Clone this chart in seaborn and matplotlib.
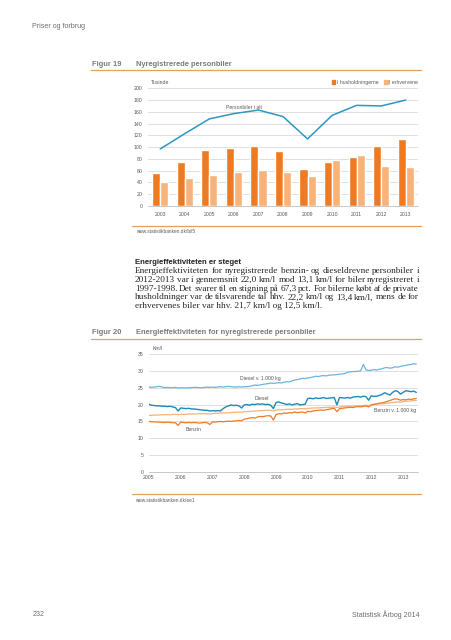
import numpy as np
import pandas as pd
import matplotlib
matplotlib.use("Agg")
import matplotlib.pyplot as plt
import seaborn as sns
from matplotlib.patches import Patch
from matplotlib.lines import Line2D

# ---------------- data: Figur 19 ----------------
years19 = ["2003", "2004", "2005", "2006", "2007", "2008", "2009", "2010", "2011", "2012", "2013"]
husholdninger = [56, 75, 95, 99, 102, 94, 63, 75, 84, 102, 114]
erhvervene = [41, 48, 53, 58, 61, 58, 51, 79, 87, 68, 66]
personbiler_i_alt = [97, 123, 148, 157, 163, 152, 114, 154, 171, 170, 180]
yticks19 = [0, 20, 40, 60, 80, 100, 120, 140, 160, 180, 200]

# ---------------- data: Figur 20 (monthly, Jan 2005 - Jun 2013) ----------------
diesel_1000kg = [
    25.2, 25.1, 25.2, 25.3, 25.4, 25.2, 25.0, 25.1, 25.0, 25.0, 25.1, 24.9,
    25.0, 25.0, 24.9, 25.0, 25.0, 25.1, 25.1, 25.0, 25.0, 25.1, 25.2, 25.1,
    25.2, 25.1, 25.2, 25.3, 25.2, 25.3, 25.4, 25.3, 25.2, 25.2, 25.3, 25.2,
    25.3, 25.3, 25.4, 25.6, 25.8, 25.7, 25.8, 26.0, 26.1, 26.2, 26.4, 26.3,
    26.4, 26.5, 26.4, 26.6, 26.8, 26.7, 27.0, 27.3, 27.4, 27.6, 27.8, 27.7,
    27.9, 28.0, 28.2, 28.4, 28.3, 28.5, 28.6, 28.5, 28.7, 28.8, 28.8, 28.9,
    29.0, 29.1, 29.2, 29.6, 29.7, 29.8, 29.8, 29.9, 30.0, 31.9, 30.3, 30.1,
    30.2, 30.4, 30.2, 30.5, 30.6, 30.9, 31.0, 30.8, 30.9, 31.2, 31.1, 31.3,
    31.5, 31.6, 31.8, 31.9, 32.1, 32.0,
]
diesel = [
    20.1, 19.8, 19.7, 19.6, 19.6, 19.5, 19.5, 19.4, 19.5, 19.3, 19.1, 18.1,
    19.0, 18.9, 18.8, 18.9, 18.7, 18.7, 18.6, 18.5, 18.4, 18.3, 18.3, 18.1,
    18.2, 18.1, 18.2, 18.1, 18.8, 19.3, 19.6, 19.9, 19.7, 19.8, 19.6, 19.0,
    19.9, 20.0, 19.8, 20.1, 20.0, 20.2, 20.1, 20.2, 20.0, 20.1, 19.8, 18.8,
    20.6, 20.8, 20.5, 20.3, 20.0, 20.2, 19.9, 20.1, 20.3, 19.9, 20.0, 20.1,
    21.8, 21.9, 21.7, 22.0, 21.8, 21.9, 22.1, 21.8, 21.9, 22.0, 22.1, 19.9,
    22.1, 22.0, 21.9, 22.1, 21.9, 22.2, 22.3, 22.4, 22.2, 22.5, 22.3, 21.3,
    22.6, 22.4, 22.5, 22.7, 23.0, 23.5, 23.2, 22.8, 23.6, 24.1, 23.9, 23.1,
    23.6, 24.1, 24.0, 23.8, 24.0, 23.6,
]
benzin_1000kg = [
    16.8, 16.8, 16.9, 16.9, 16.9, 17.0, 17.0, 17.0, 17.0, 17.1, 17.1, 17.0,
    17.1, 17.1, 17.1, 17.2, 17.2, 17.2, 17.2, 17.3, 17.3, 17.3, 17.3, 17.2,
    17.3, 17.4, 17.4, 17.5, 17.5, 17.5, 17.6, 17.6, 17.7, 17.7, 17.8, 17.7,
    17.9, 17.9, 18.0, 18.0, 18.1, 18.1, 18.2, 18.2, 18.3, 18.3, 18.3, 18.1,
    18.4, 18.4, 18.5, 18.5, 18.6, 18.6, 18.6, 18.7, 18.7, 18.8, 18.8, 18.7,
    18.9, 18.9, 19.0, 19.0, 19.0, 19.1, 19.1, 19.2, 19.2, 19.2, 19.3, 19.1,
    19.3, 19.4, 19.4, 19.5, 19.5, 19.5, 19.6, 19.6, 19.7, 19.7, 19.8, 19.7,
    19.9, 20.0, 20.1, 20.2, 20.2, 20.3, 20.4, 20.5, 20.6, 20.7, 20.8, 20.7,
    20.9, 21.0, 21.0, 21.1, 21.2, 21.2,
]
benzin = [
    15.0, 14.9, 14.9, 14.8, 14.8, 14.7, 14.7, 14.8, 14.7, 14.6, 14.6, 13.8,
    14.8, 14.7, 14.6, 14.7, 14.6, 14.7, 14.6, 14.5, 14.6, 14.7, 14.6, 14.1,
    14.9, 14.8, 14.9, 15.0, 14.9, 15.0, 15.1, 15.0, 15.1, 15.2, 15.3, 15.2,
    15.7, 15.8, 16.0, 16.1, 16.0, 16.3, 16.5, 16.4, 16.6, 16.7, 16.6, 15.4,
    17.0, 17.3, 17.2, 17.5, 17.4, 17.6, 17.5, 17.8, 17.6, 17.7, 17.8, 17.5,
    18.0, 17.9, 18.1, 18.2, 18.3, 18.4, 18.3, 18.5, 18.6, 18.8, 18.9, 17.9,
    18.8, 18.9, 19.0, 19.1, 19.2, 19.1, 19.3, 19.4, 19.3, 19.5, 19.6, 19.3,
    19.9, 20.1, 20.2, 20.4, 20.5, 20.7, 20.9, 21.2, 21.5, 21.7, 21.6, 21.3,
    21.5, 21.4, 21.6, 21.5, 21.7, 21.8,
]
years20 = [2005, 2006, 2007, 2008, 2009, 2010, 2011, 2012, 2013]
yticks20 = [0, 5, 10, 15, 20, 25, 30, 35]

body_title = "Energieffektiviteten er steget"
body_lines = [
    "Energieffektiviteten for nyregistrerede benzin- og dieseldrevne personbiler i",
    "2012-2013 var i gennemsnit 22,0 km/l mod 13,1 km/l for biler nyregistreret i",
    "1997-1998. Det svarer til en stigning på 67,3 pct. For bilerne købt af de private",
    "husholdninger var de tilsvarende tal hhv. 22,2 km/l og 13,4 km/l, mens de for",
    "erhvervenes biler var hhv. 21,7 km/l og 12,5 km/l.",
]

# ---------------- style ----------------
sns.set_theme(style="white")
plt.rcParams["font.family"] = ["Liberation Sans", "DejaVu Sans"]

C_DARK = "#ee7b22"
C_LIGHT = "#f7b37a"
C_LINE = "#2b97c2"
C_DIESEL1000 = "#6bb4e0"
C_DIESEL = "#1f88b9"
C_BENZIN1000 = "#f6b27c"
C_BENZIN = "#ec7a26"
C_RULE = "#e0a060"
C_GRID = "#d9d9d9"
C_TXT = "#595959"
C_HEAD = "#7a7a7a"
TICK_FS = 3.7
HEAD_FS = 5.45

W, H = 452, 640
fig = plt.figure(figsize=(W / 100, H / 100), dpi=100)


def fx(px):
    return px / W


def fy(py):
    return 1 - py / H


def rule(x0, x1, y, lw=0.9):
    fig.add_artist(Line2D([fx(x0), fx(x1)], [fy(y), fy(y)], color=C_RULE, lw=lw,
                          transform=fig.transFigure))


# page header / footer
fig.text(fx(32.5), fy(26), "Priser og forbrug", fontsize=5.1, color="#6d6d6d", va="center")
fig.text(fx(32.5), fy(615), "232", fontsize=5.1, color="#6d6d6d", va="center")
fig.text(fx(420), fy(615), "Statistisk Årbog 2014", fontsize=5.1, color="#6d6d6d",
         va="center", ha="right")

# ---------------- Figur 19 ----------------
fig.text(fx(92.5), fy(65), "Figur 19", fontsize=HEAD_FS, color=C_HEAD, weight="bold",
         va="center")
fig.text(fx(136.5), fy(65), "Nyregistrerede personbiler", fontsize=HEAD_FS, color=C_HEAD,
         weight="bold", va="center")
rule(91.5, 421, 69.5)

ax1 = fig.add_axes([fx(148), fy(206), fx(418) - fx(148), fy(88.3) - fy(206)])
df1 = pd.DataFrame({
    "year": years19 * 2,
    "type": ["I husholdningerne"] * len(years19) + ["I erhvervene"] * len(years19),
    "value": husholdninger + erhvervene,
})
sns.barplot(data=df1, x="year", y="value", hue="type", order=years19,
            hue_order=["I husholdningerne", "I erhvervene"],
            palette=[C_DARK, C_LIGHT], saturation=1, width=0.66, gap=0,
            errorbar=None, legend=False, ax=ax1, zorder=2)
sns.lineplot(x=np.arange(len(years19)), y=personbiler_i_alt, color=C_LINE, lw=1.1,
             ax=ax1, zorder=3)
ax1.set_xlim(-0.5, len(years19) - 0.5)
ax1.set_ylim(0, 200)
ax1.set_yticks(yticks19)
ax1.yaxis.grid(True, color=C_GRID, lw=0.6)
ax1.set_axisbelow(True)
for s in ["top", "right", "left"]:
    ax1.spines[s].set_visible(False)
ax1.spines["bottom"].set_color("#bfbfbf")
ax1.spines["bottom"].set_linewidth(0.6)
ax1.tick_params(axis="both", labelsize=TICK_FS, colors=C_TXT, length=0, pad=4)
ax1.set_xlabel("")
ax1.set_ylabel("")
fig.text(fx(150.5), fy(82.3), "Tusinde", fontsize=TICK_FS, color=C_TXT, va="center")
ax1.text(3.4, 163, "Personbiler i alt", fontsize=TICK_FS, color=C_TXT, ha="center",
         va="bottom")
ax1.legend(handles=[Patch(color=C_DARK, label="I husholdningerne"),
                    Patch(color=C_LIGHT, label="I erhvervene")],
           ncol=2, frameon=False, fontsize=TICK_FS, handlelength=0.6, handleheight=0.6,
           handletextpad=0.3, columnspacing=1.2, loc="center right",
           bbox_to_anchor=(fx(418), fy(82.3)), bbox_transform=fig.transFigure,
           borderaxespad=0, borderpad=0, labelcolor=C_TXT)
rule(132, 421, 225.7)
fig.text(fx(136), fy(231.7), "www.statistikbanken.dk/bil5", fontsize=3.4, color=C_TXT,
         va="center")

# ---------------- body text ----------------
fig.text(fx(135), fy(262), body_title, fontsize=5.55, weight="bold", color="#222222",
         va="center")
renderer = fig.canvas.get_renderer()
x_left, x_right = 135, 419
body_y = [271.0, 279.8, 288.6, 297.4, 306.2]
for i, line in enumerate(body_lines):
    kw = dict(fontsize=6.7, family=["Liberation Serif", "DejaVu Serif"], color="#262626",
              va="center")
    if i == len(body_lines) - 1:
        fig.text(fx(x_left), fy(body_y[i]), line, **kw)
        continue
    words = line.split(" ")
    arts = [fig.text(0, fy(body_y[i]), w, **kw) for w in words]
    widths = [a.get_window_extent(renderer).width for a in arts]
    gap = ((x_right - x_left) - sum(widths)) / (len(words) - 1)
    pos = x_left
    for a, w in zip(arts, widths):
        a.set_x(fx(pos))
        pos += w + gap

# ---------------- Figur 20 ----------------
fig.text(fx(92.5), fy(332.5), "Figur 20", fontsize=HEAD_FS, color=C_HEAD, weight="bold",
         va="center")
fig.text(fx(136.5), fy(332.5), "Energieffektiviteten for nyregistrerede personbiler",
         fontsize=HEAD_FS, color=C_HEAD, weight="bold", va="center")
rule(91.5, 421, 339.3)

ax2 = fig.add_axes([fx(149), fy(472), fx(418) - fx(149), fy(354) - fy(472)])
dates = pd.date_range("2005-01-01", periods=len(diesel), freq="MS")
xpos = np.asarray(dates.year + (dates.month - 1) / 12.0, dtype=float)
sns.lineplot(x=xpos, y=diesel_1000kg, color=C_DIESEL1000, lw=0.9, ax=ax2)
sns.lineplot(x=xpos, y=benzin_1000kg, color=C_BENZIN1000, lw=0.9, ax=ax2)
sns.lineplot(x=xpos, y=benzin, color=C_BENZIN, lw=0.9, ax=ax2)
sns.lineplot(x=xpos, y=diesel, color=C_DIESEL, lw=1.0, ax=ax2)
ax2.set_xlim(2005, 2013.47)
ax2.set_ylim(0, 35)
ax2.set_yticks(yticks20)
ax2.set_xticks(years20)
ax2.set_xticklabels([str(y) for y in years20])
ax2.set_xlabel("")
ax2.set_ylabel("")
ax2.yaxis.grid(True, color=C_GRID, lw=0.6)
ax2.set_axisbelow(True)
for s in ["top", "right", "left"]:
    ax2.spines[s].set_visible(False)
ax2.spines["bottom"].set_color("#bfbfbf")
ax2.spines["bottom"].set_linewidth(0.6)
ax2.tick_params(axis="both", labelsize=TICK_FS, colors=C_TXT, length=0, pad=4)
ax2.tick_params(axis="x", pad=2.5)
fig.text(fx(153), fy(349), "Km/l", fontsize=TICK_FS, color=C_TXT, va="center")
ax2.text(2008.51, 27.6, "Diesel v. 1.000 kg", fontsize=TICK_FS, color=C_TXT, ha="center",
         va="center")
ax2.text(2008.55, 21.8, "Diesel", fontsize=TICK_FS, color=C_TXT, ha="center", va="center")
ax2.text(2006.39, 12.5, "Benzin", fontsize=TICK_FS, color=C_TXT, ha="center", va="center")
ax2.text(2013.41, 18.2, "Benzin v. 1.000 kg", fontsize=TICK_FS, color=C_TXT, ha="right",
         va="center")
rule(132, 421, 494)
fig.text(fx(135), fy(500.7), "www.statistikbanken.dk/ee1", fontsize=3.4, color=C_TXT,
         va="center")

fig.savefig("out.png", dpi=100)
